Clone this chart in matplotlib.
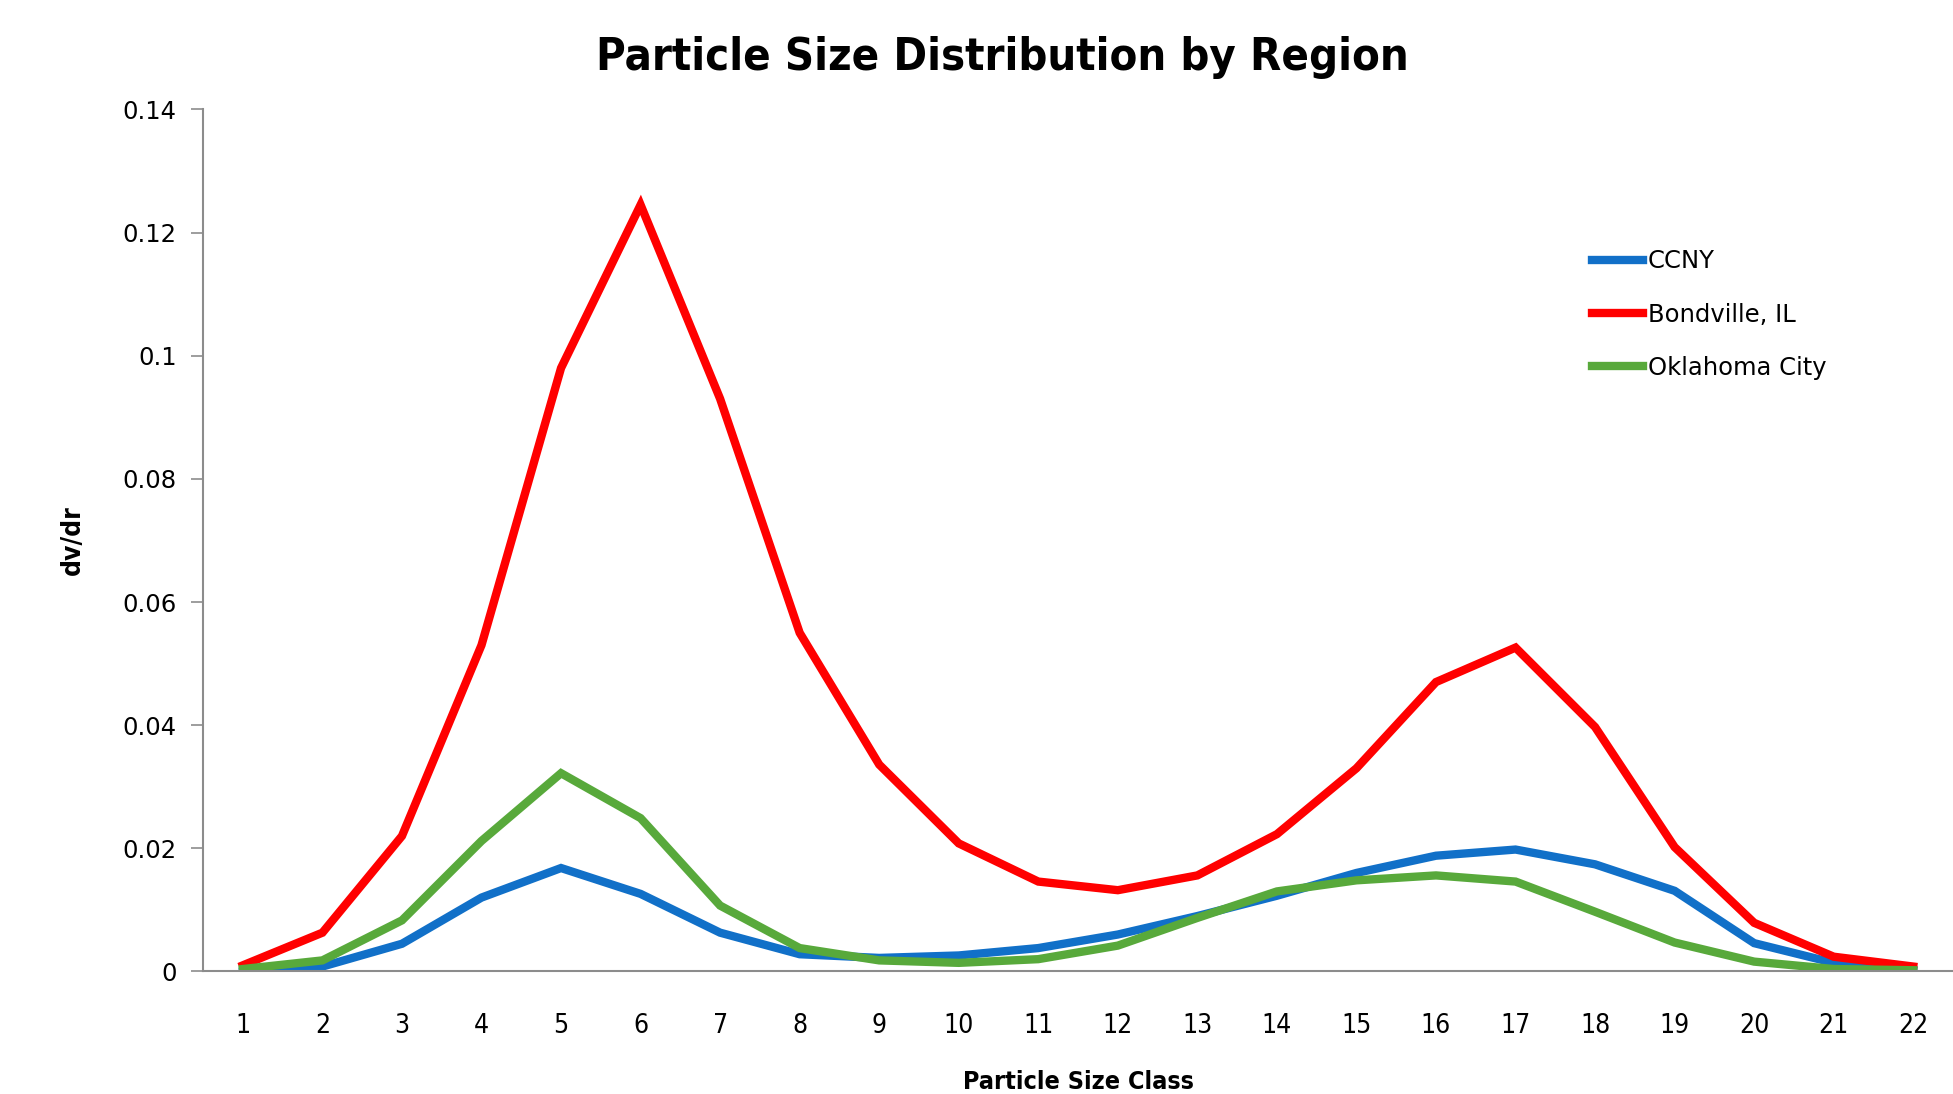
import numpy as np
import matplotlib
matplotlib.use("Agg")
import matplotlib.pyplot as plt

# particle size classes 1..22
size_class = list(range(1, 23))

ccny = [0.0000, 0.0008, 0.0045, 0.0120, 0.0168, 0.0126, 0.0063, 0.0028, 0.0022, 0.0026, 0.0038,
        0.0060, 0.0090, 0.0123, 0.0160, 0.0188, 0.0198, 0.0174, 0.0131, 0.0046, 0.0014, 0.0002]
bondville = [0.0010, 0.0063, 0.0220, 0.0530, 0.0980, 0.1245, 0.0930, 0.0550, 0.0336, 0.0208, 0.0146,
             0.0132, 0.0156, 0.0223, 0.0330, 0.0470, 0.0526, 0.0397, 0.0202, 0.0079, 0.0024, 0.0008]
oklahoma = [0.0004, 0.0018, 0.0083, 0.0212, 0.0322, 0.0249, 0.0107, 0.0038, 0.0018, 0.0014, 0.0020,
            0.0042, 0.0087, 0.0130, 0.0148, 0.0156, 0.0146, 0.0097, 0.0047, 0.0016, 0.0004, 0.0002]

series_names = ["CCNY", "Bondville, IL", "Oklahoma City"]
colors = ["#1170C8", "#FF0000", "#58A93B"]

fig = plt.figure(figsize=(19.53, 10.94), dpi=100)
ax = fig.add_axes([0.104, 0.112, 0.896, 0.788])

for vals, name, c in zip([ccny, bondville, oklahoma], series_names, colors):
    ax.plot(size_class, vals, color=c, lw=6, label=name, solid_joinstyle="miter")

ax.set_xlim(0.5, 22.5)
ax.set_ylim(0, 0.14)
ax.set_yticks(np.arange(0, 0.141, 0.02))
ax.set_yticklabels(["0", "0.02", "0.04", "0.06", "0.08", "0.1", "0.12", "0.14"], fontsize=17.5)
ax.set_xticks(size_class)
ax.set_xticklabels([str(s) for s in size_class], fontsize=19, fontstretch="condensed")

for s in ["top", "right"]:
    ax.spines[s].set_visible(False)
for s in ["left", "bottom"]:
    ax.spines[s].set_color("#8c8c8c")
    ax.spines[s].set_linewidth(1.5)
ax.tick_params(axis="y", length=9, width=1.2, color="#8c8c8c", pad=10)
ax.tick_params(axis="x", length=0, pad=30)

ax.set_xlabel("Particle Size Class", fontsize=18, fontweight="bold", fontstretch="condensed",
              labelpad=22)
ax.set_ylabel("dv/dr", fontsize=19, fontweight="bold", fontstretch="condensed", labelpad=26)

fig.suptitle("Particle Size Distribution by Region", fontsize=32.5, fontweight="bold",
             fontstretch="condensed", x=0.513, y=0.967)

ax.legend(loc="upper left", bbox_to_anchor=(0.804, 0.792), bbox_transform=fig.transFigure,
          frameon=False, fontsize=17.5, handlelength=2.1, handletextpad=0.2, labelspacing=1.2)

fig.savefig("out.png", dpi=100)
